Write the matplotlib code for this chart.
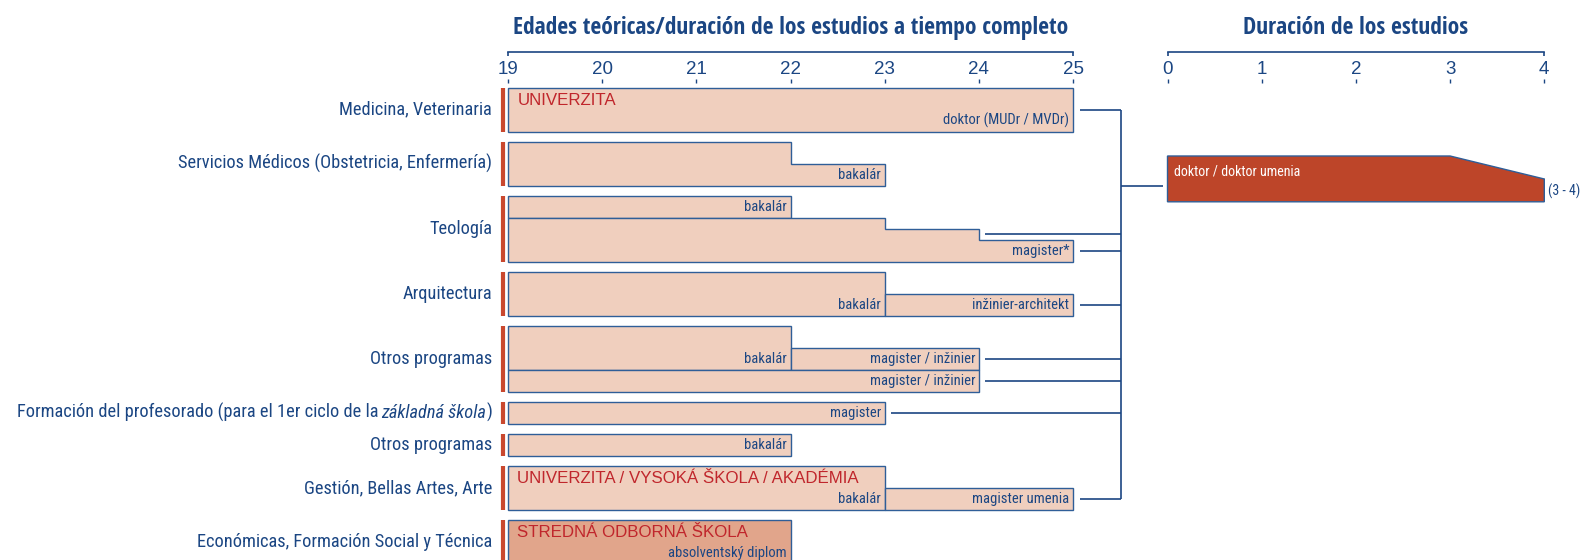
import matplotlib
matplotlib.use('Agg')
import matplotlib.pyplot as plt
from matplotlib.patches import Polygon

# fields of study (left labels) and how many half-rows each one takes
fields = ['Medicina, Veterinaria',
          'Servicios Médicos (Obstetricia, Enfermería)',
          'Teología',
          'Arquitectura',
          'Otros programas',
          'FORMACION',  # drawn in pieces (italic part)
          'Otros programas',
          'Gestión, Bellas Artes, Arte',
          'Económicas, Formación Social y Técnica']
field_rows = [2, 2, 3, 2, 3, 1, 1, 2, 2]

# programmes: field, start age, bottom row, steps of (end age, top row), label
prog_field = [0, 1, 2, 2, 3, 3, 4, 4, 4, 5, 6, 7, 7, 8]
prog_start = [19, 19, 19, 19, 19, 23, 19, 22, 19, 19, 19, 19, 23, 19]
prog_bottom = [2, 2, 1, 3, 2, 2, 2, 2, 3, 1, 1, 2, 2, 2]
prog_steps = [[(25, 0)],
              [(22, 0), (23, 1)],
              [(22, 0)],
              [(23, 1), (24, 1.5), (25, 2)],
              [(23, 0)],
              [(25, 1)],
              [(22, 0)],
              [(24, 1)],
              [(24, 2)],
              [(23, 0)],
              [(22, 0)],
              [(23, 0)],
              [(25, 1)],
              [(22, 0)]]
prog_label = ['doktor (MUDr / MVDr)', 'bakalár', 'bakalár', 'magister*',
              'bakalár', 'inžinier-architekt', 'bakalár', 'magister / inžinier',
              'magister / inžinier', 'magister', 'bakalár', 'bakalár',
              'magister umenia', 'absolventský diplom']
prog_secondary = [False] * 13 + [True]

# institution names written inside the boxes
inst_field = [0, 7, 8]
inst_name = ['UNIVERZITA', 'UNIVERZITA / VYSOKÁ ŠKOLA / AKADÉMIA', 'STREDNÁ ODBORNÁ ŠKOLA']

# lines leading to the doctoral study
conn_field = [0, 2, 2, 3, 4, 4, 5, 7]
conn_row = [1.0, 1.75, 2.5, 1.5, 1.5, 2.5, 0.5, 1.5]
conn_from = [25, 24, 25, 25, 24, 24, 23, 25]

ages = [19, 20, 21, 22, 23, 24, 25]
years = [0, 1, 2, 3, 4]
doc_min, doc_max = 3, 4
doc_label = 'doktor / doktor umenia'
doc_range = '(3 - 4)'

# colours
NAVY = '#1b4683'
EDGE = '#2f5e98'
FILL = '#f0cfbe'
FILL2 = '#e1a58b'
RED = '#c9482e'
REDTXT = '#c0262c'
DOC = '#bd4529'

COND = ['Roboto Condensed', 'DejaVu Sans']
TITLE = ['Open Sans Condensed', 'Roboto Condensed', 'DejaVu Sans']
SANS = ['Liberation Sans', 'DejaVu Sans']

W, H = 1583, 560
TOP_PX, UNIT_PX, GAP = 87.8, 21.96, 0.46


def py(px):
    return (px - TOP_PX) / UNIT_PX


def xlim_for(v0, px0, scale):
    return (v0 - px0 / scale, v0 + (W - px0) / scale)


fig = plt.figure(figsize=(W / 100, H / 100), dpi=100)
ax = fig.add_axes([0, 0, 1, 1])
ax.set_xlim(*xlim_for(19, 508, 94.17))
ax.set_ylim(py(H), py(0))
ax.axis('off')
ax2 = fig.add_axes([0, 0, 1, 1])
ax2.set_xlim(*xlim_for(0, 1167.5, 94.2))
ax2.set_ylim(py(H), py(0))
ax2.axis('off')
ax2.patch.set_alpha(0)

# top of every field
field_top = []
y = 0
for n in field_rows:
    field_top.append(y)
    y += n + GAP

# field labels and red markers
LBL = 13.2
for i, name in enumerate(fields):
    t0 = field_top[i]
    yc = t0 + field_rows[i] / 2
    ax.vlines(18.945, t0, t0 + field_rows[i], color=RED, lw=3)
    if name == 'FORMACION':
        t1 = ax.text(18.83, yc, ')', ha='right', va='center', fontsize=LBL,
                     family=COND, color=NAVY)
        t2 = ax.annotate('základná škola', xy=(0, 0), xycoords=t1, ha='right',
                         va='bottom', fontsize=LBL, family=COND, style='italic',
                         color=NAVY)
        ax.annotate('Formación del profesorado (para el 1er ciclo de la', xy=(0, 0),
                    xycoords=t2, xytext=(-2.2, 0), textcoords='offset points',
                    ha='right', va='bottom', fontsize=LBL, family=COND, color=NAVY)
    else:
        ax.text(18.83, yc, name, ha='right', va='center', fontsize=LBL,
                family=COND, color=NAVY)

# programme boxes
for i in range(len(prog_field)):
    t0 = field_top[prog_field[i]]
    bottom = t0 + prog_bottom[i]
    pts = [(prog_start[i], bottom)]
    x = prog_start[i]
    for end, top in prog_steps[i]:
        pts.append((x, t0 + top))
        pts.append((end, t0 + top))
        x = end
    pts.append((x, bottom))
    ax.add_patch(Polygon(pts, closed=True, facecolor=FILL2 if prog_secondary[i] else FILL,
                         edgecolor=EDGE, lw=1.0))
    ax.text(x - 0.04, bottom - 0.5, prog_label[i], ha='right', va='center',
            fontsize=10.5, family=COND, color=NAVY)

for f, name in zip(inst_field, inst_name):
    ax.text(19.1, field_top[f] + 0.58, name, ha='left', va='center',
            fontsize=12.2, family=SANS, color=REDTXT)

# connector lines
bus_x = 25.507
for f, r, x0 in zip(conn_field, conn_row, conn_from):
    yy = field_top[f] + r
    ax.plot([x0 + 0.07, bus_x], [yy, yy], color=NAVY, lw=1.2, solid_capstyle='butt')
ys = [field_top[f] + r for f, r in zip(conn_field, conn_row)]
ax.vlines(bus_x, min(ys), max(ys), color=NAVY, lw=1.2)

# doctoral study
d_top, d_bot, d_slope = py(156), py(201.8), py(179)
ax2.plot([ax2.get_xlim()[0] + (1120.7 / 94.2), -0.05], [py(186), py(186)],
         color=NAVY, lw=1.2, solid_capstyle='butt')
ax2.add_patch(Polygon([(0, d_bot), (0, d_top), (doc_min, d_top), (doc_max, d_slope),
                       (doc_max, d_bot)], closed=True, facecolor=DOC,
                      edgecolor=EDGE, lw=1.0))
ax2.text(0.07, py(172), doc_label, ha='left', va='center', fontsize=10.1,
         family=COND, color='white')
ax2.text(doc_max + 0.04, py(191.7), doc_range, ha='left', va='center',
         fontsize=10, family=COND, color=NAVY)

# scales at the top
for a, ticks in ((ax, ages), (ax2, years)):
    a.plot([ticks[0], ticks[-1]], [py(51.7), py(51.7)], color=NAVY, lw=1.2)
    a.vlines([ticks[0], ticks[-1]], py(51.7), py(56), color=NAVY, lw=1.2)
    a.vlines(ticks, py(78.5), py(82.5), color=NAVY, lw=1.0)
    for t in ticks:
        a.text(t, py(69.5), str(t), ha='center', va='center', fontsize=13.5,
               family=SANS, color=NAVY)

ax.text(22, py(27.5), 'Edades teóricas/duración de los estudios a tiempo completo',
        ha='center', va='center', fontsize=16.9, fontweight='bold', family=TITLE,
        color=NAVY)
ax2.text(2, py(27.5), 'Duración de los estudios', ha='center', va='center',
         fontsize=16.9, fontweight='bold', family=TITLE, color=NAVY)

fig.savefig('out.png', dpi=100)
